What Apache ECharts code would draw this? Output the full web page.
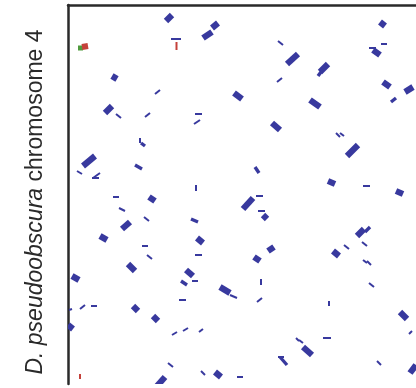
<!DOCTYPE html>
<html>
<head>
<meta charset="utf-8">
<script src="https://cdn.jsdelivr.net/npm/echarts@6/dist/echarts.min.js"></script>
<style>
  html, body { margin: 0; padding: 0; background: #fff; }
  #chart { width: 416px; height: 388px; }
</style>
</head>
<body>
<div id="chart"></div>
<script>
// syntenic segments: [x start, y start, x end, y end]
// x = reference position, y = D. pseudoobscura chr 4 position (top down)
const largeBlocks = [
  [98, 16, 104, 10], [135, 33, 144, 27], [144, 23, 150, 18], [166, 88, 174, 94],
  [219, 59, 230, 49], [252, 67, 260, 59], [312, 17, 317, 21], [305, 45, 312, 50],
  [315, 77, 322, 82], [337, 87, 345, 82], [242, 95, 252, 102], [204, 118, 212, 125],
  [15, 161, 27, 151], [54, 224, 62, 217], [32, 231, 39, 235], [81, 192, 87, 196],
  [175, 204, 185, 193], [195, 210, 199, 214], [129, 233, 135, 238], [186, 252, 192, 256],
  [200, 246, 206, 242], [279, 151, 290, 140], [260, 176, 267, 179], [328, 186, 335, 189],
  [289, 231, 296, 224], [265, 246, 271, 251], [60, 259, 67, 266], [4, 271, 11, 275],
  [65, 301, 70, 306], [0, 320, 5, 324], [118, 265, 125, 271], [152, 282, 162, 288],
  [85, 311, 90, 316], [89, 381, 97, 372], [147, 367, 153, 372], [332, 307, 339, 314],
  [235, 342, 244, 350], [342, 368, 348, 360], [44, 71, 49, 74], [37, 108, 44, 101]
];

const mediumBlocks = [
  [73, 138, 77, 141], [187, 162, 191, 168], [250, 71, 253, 67], [323, 97, 328, 93],
  [67, 160, 74, 164], [123, 214, 130, 217], [297, 227, 302, 222], [113, 276, 119, 280],
  [212, 352, 219, 360]
];

const thinSegments = [
  [103, 34, 113, 34], [48, 109, 53, 113], [87, 89, 92, 85], [77, 112, 82, 108],
  [127, 109, 134, 109], [126, 119, 132, 115], [210, 36, 215, 40], [313, 39, 319, 39],
  [301, 43, 308, 43], [209, 77, 214, 73], [9, 166, 14, 169], [25, 173, 32, 168],
  [24, 173, 31, 173], [45, 192, 51, 192], [51, 203, 57, 206], [72, 133, 72, 138],
  [128, 180, 128, 186], [188, 191, 195, 191], [76, 212, 81, 216], [190, 206, 197, 206],
  [74, 241, 80, 241], [79, 250, 84, 254], [127, 250, 134, 250], [268, 128, 272, 132],
  [272, 128, 276, 131], [295, 181, 302, 181], [276, 240, 281, 244], [294, 237, 299, 241],
  [12, 304, 17, 300], [23, 301, 29, 301], [1, 305, 4, 304], [124, 276, 130, 276],
  [193, 274, 193, 280], [111, 295, 118, 295], [189, 297, 194, 293], [104, 330, 109, 327],
  [115, 326, 120, 323], [131, 327, 135, 324], [100, 358, 105, 362], [133, 366, 137, 370],
  [169, 372, 175, 372], [295, 255, 299, 258], [299, 256, 303, 260], [301, 278, 306, 282],
  [261, 296, 261, 301], [341, 329, 344, 326], [255, 333, 263, 333], [228, 333, 231, 336],
  [231, 335, 235, 338], [210, 352, 216, 352], [309, 356, 313, 360], [162, 290, 169, 293]
];

// segments from other chromosomes
const greenBlocks = [[10, 43, 15, 43]];
const redBlocks = [[14, 42, 20, 41]];
const redSegments = [[108.5, 37, 108.5, 45], [12, 369, 12, 374]];

const xMax = 348;
const yMax = 379;

const chart = echarts.init(document.getElementById('chart'));

// 每个片段画成一条粗细不同的短线
function segmentSeries(name, data, color, width) {
  return {
    name: name,
    type: 'custom',
    clip: true,
    encode: { x: [0, 2], y: [1, 3] },
    data: data,
    renderItem: function (params, api) {
      const p1 = api.coord([api.value(0), api.value(1)]);
      const p2 = api.coord([api.value(2), api.value(3)]);
      return {
        type: 'line',
        shape: { x1: p1[0], y1: p1[1], x2: p2[0], y2: p2[1] },
        style: { stroke: color, lineWidth: width, lineCap: 'butt' }
      };
    }
  };
}

const axisLine = { show: true, lineStyle: { color: '#2a2a2a', width: 2.5 } };

chart.setOption({
  animation: false,
  grid: { left: 68, top: 5, right: 0, bottom: 4 },
  xAxis: {
    type: 'value', min: 0, max: xMax,
    axisLine: axisLine, axisTick: { show: false },
    axisLabel: { show: false }, splitLine: { show: false }
  },
  yAxis: {
    type: 'value', min: 0, max: yMax, inverse: true,
    axisLine: axisLine, axisTick: { show: false },
    axisLabel: { show: false }, splitLine: { show: false }
  },
  graphic: [{
    type: 'text',
    x: 47,
    y: 202,
    rotation: Math.PI / 2,
    style: {
      text: '{i|D. pseudoobscura} chromosome 4',
      font: '23px "Liberation Sans", Arial, sans-serif',
      fill: '#2a2a2a',
      align: 'center',
      verticalAlign: 'bottom',
      rich: {
        i: { fontStyle: 'italic', fontSize: 23, fontFamily: '"Liberation Sans", Arial, sans-serif', fill: '#2a2a2a' }
      }
    }
  }],
  series: [
    segmentSeries('green', greenBlocks, '#4f9a3c', 5),
    segmentSeries('large', largeBlocks, '#38399e', 6.2),
    segmentSeries('medium', mediumBlocks, '#38399e', 3.4),
    segmentSeries('thin', thinSegments, '#38399e', 2),
    segmentSeries('red', redBlocks, '#c4413a', 6),
    segmentSeries('redThin', redSegments, '#c4413a', 2)
  ]
});
</script>
</body>
</html>
